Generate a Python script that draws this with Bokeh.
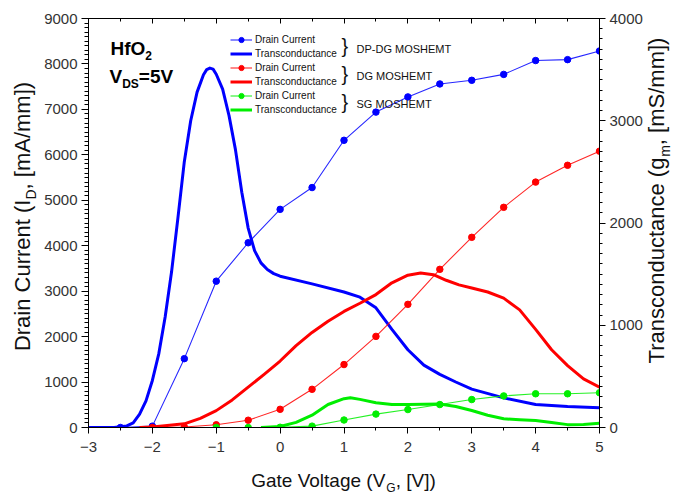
import math
from bokeh.plotting import figure
from bokeh.layouts import row, column
from bokeh.models import (Range1d, LinearAxis, SingleIntervalTicker, Legend,
                          LegendItem, Label)
from bokeh.embed import file_html
from bokeh.resources import INLINE

# ---------------- data ----------------
# Drain current (left axis, mA/mm), markers every 0.5 V
vg_dpdg = [-2.5, -2.0, -1.5, -1.0, -0.5, 0.0, 0.5, 1.0, 1.5, 2.0, 2.5, 3.0, 3.5, 4.0, 4.5, 5.0]
id_dpdg = [0, 30, 1515, 3220, 4065, 4800, 5280, 6320, 6940, 7275, 7560, 7640, 7770, 8075, 8095, 8285]

vg_dg = [-2.0, -1.5, -1.0, -0.5, 0.0, 0.5, 1.0, 1.5, 2.0, 2.5, 3.0, 3.5, 4.0, 4.5, 5.0]
id_dg = [0, 10, 60, 160, 400, 840, 1385, 2005, 2710, 3480, 4185, 4845, 5400, 5770, 6080]

vg_sg = [-1.0, -0.5, 0.0, 0.5, 1.0, 1.5, 2.0, 2.5, 3.0, 3.5, 4.0, 4.5, 5.0]
id_sg = [0, 0, 5, 30, 165, 295, 395, 505, 615, 695, 742, 742, 765]

# Transconductance (right axis, mS/mm)
vg_gm_dpdg = [-3.0, -2.6, -2.4, -2.3, -2.2, -2.1, -2.0, -1.9, -1.8, -1.7, -1.6, -1.5, -1.4,
              -1.3, -1.2, -1.15, -1.1, -1.05, -1.0, -0.9, -0.8, -0.7, -0.6, -0.5, -0.4, -0.3,
              -0.2, -0.1, 0.0, 0.5, 1.0, 1.25, 1.5, 1.75, 2.0, 2.25, 2.5, 2.75, 3.0, 3.5, 4.0,
              4.5, 5.0]
gm_dpdg = [0, 0, 15, 45, 130, 260, 460, 720, 1080, 1520, 2050, 2600, 3000,
           3280, 3450, 3500, 3515, 3505, 3455, 3310, 3050, 2720, 2300, 1950, 1730, 1610,
           1545, 1505, 1480, 1405, 1325, 1275, 1170, 960, 760, 610, 520, 445, 375, 290, 225,
           205, 193]

vg_gm_dg = [-2.2, -2.0, -1.5, -1.25, -1.0, -0.75, -0.5, -0.25, 0.0, 0.25, 0.5, 0.75, 1.0,
            1.25, 1.5, 1.75, 2.0, 2.2, 2.4, 2.6, 2.8, 3.0, 3.25, 3.5, 3.75, 4.0, 4.25,
            4.5, 4.75, 5.0]
gm_dg = [0, 5, 36, 90, 165, 270, 395, 520, 650, 800, 930, 1040, 1135,
         1215, 1300, 1415, 1490, 1510, 1495, 1440, 1395, 1365, 1325, 1265, 1150, 960, 760,
         605, 475, 395]

vg_gm_sg = [-0.3, 0.0, 0.25, 0.5, 0.75, 1.0, 1.1, 1.25, 1.5, 1.75, 2.0, 2.25, 2.5, 2.75,
            3.0, 3.25, 3.5, 3.75, 4.0, 4.25, 4.5, 4.75, 5.0]
gm_sg = [0, 10, 50, 120, 225, 282, 290, 275, 242, 225, 225, 228, 230, 205,
         166, 120, 85, 76, 68, 48, 28, 30, 42]

series_names = ["DP-DG MOSHEMT", "DG MOSHEMT", "SG MOSHEMT"]
series_colors = ["#0000FF", "#FF0000", "#00EE00"]

x_limits = (-3, 5)
id_limits = (0, 9000)
gm_limits = (0, 4000)

FONT = "Liberation Sans"

# ---------------- text helpers ----------------
W = {' ': .278, '(': .333, ')': .333, '[': .278, ']': .278, ',': .278, '/': .278,
     '=': .584, '-': .333, 'A': .667, 'C': .722, 'D': .722, 'E': .667, 'G': .778,
     'H': .722, 'I': .278, 'M': .833, 'O': .778, 'P': .667, 'S': .667, 'T': .611,
     'V': .667, 'a': .556, 'c': .5, 'd': .556, 'e': .556, 'f': .278, 'g': .556,
     'i': .222, 'l': .222, 'm': .833, 'n': .556, 'o': .556, 'r': .333, 's': .5,
     't': .278, 'u': .556}
WB = {'H': .722, 'f': .333, 'O': .778, 'V': .667, 'D': .722, 'S': .667, '=': .584}
BASE_FIX = 0.35   # observed offset of the rendered baseline, in em, toward the text's bottom


def tw(s, size, bold=False):
    tab = WB if bold else W
    return sum(tab.get(ch, W.get(ch, .556)) for ch in s) * size


def compose(fig, pieces, x0, y0, size, angle=0.0, bold=False, center=False, color="#111111"):
    sub = round(size * 0.65)
    total = sum(tw(t, sub if s else size, bold) for t, s in pieces)
    pos = -total / 2 if center else 0.0
    for t, s in pieces:
        fs = sub if s else size
        down = (size * 0.24 if s else 0.0) - BASE_FIX * fs
        if angle == 0:
            x, y = x0 + pos, y0 - down
        else:
            x, y = x0 + down, y0 + pos
        fig.add_layout(Label(x=x, y=y, x_units="screen", y_units="screen", text=t,
                             angle=angle, text_font=FONT, text_font_size=f"{fs}px",
                             text_font_style="bold" if bold else "normal",
                             text_baseline="alphabetic", text_align="left",
                             text_color=color))
        pos += tw(t, fs, bold)


def blank_fig(w, h, left=0, right=0, top=0, bottom=0):
    f = figure(width=w, height=h, x_range=Range1d(0, 1), y_range=Range1d(0, 1),
               output_backend="svg", toolbar_location=None,
               x_axis_location=None, y_axis_location=None,
               min_border_left=left, min_border_right=right,
               min_border_top=top, min_border_bottom=bottom)
    f.xgrid.visible = False
    f.ygrid.visible = False
    f.outline_line_color = None
    f.background_fill_color = "white"
    f.border_fill_color = "white"
    return f


# ---------------- main figure ----------------
p = figure(width=605, height=460, x_range=Range1d(*x_limits), y_range=Range1d(*id_limits),
           output_backend="svg", toolbar_location=None,
           min_border_left=48, min_border_right=45, min_border_top=18, min_border_bottom=33)
p.extra_y_ranges = {"gm": Range1d(*gm_limits)}
p.xgrid.visible = False
p.ygrid.visible = False
p.outline_line_color = "black"
p.outline_line_width = 1
p.background_fill_color = "white"
p.border_fill_color = "white"


def style_axis(ax, maj_out=6, min_out=3, maj_in=0, min_in=0, standoff=4, size="15px"):
    ax.axis_line_color = "black"
    ax.major_tick_line_color = "black"
    ax.minor_tick_line_color = "black"
    ax.major_tick_out = maj_out
    ax.minor_tick_out = min_out
    ax.major_tick_in = maj_in
    ax.minor_tick_in = min_in
    ax.major_label_standoff = standoff
    ax.major_label_text_font = FONT
    ax.major_label_text_font_size = size
    ax.major_label_text_color = "#333333"


p.xaxis.ticker = SingleIntervalTicker(interval=1, num_minor_ticks=2)
style_axis(p.xaxis[0], maj_out=6, min_out=3, standoff=8)
p.yaxis.ticker = SingleIntervalTicker(interval=1000, num_minor_ticks=10)
style_axis(p.yaxis[0], maj_out=7, min_out=4, standoff=4)

right = LinearAxis(y_range_name="gm", ticker=SingleIntervalTicker(interval=1000, num_minor_ticks=10))
style_axis(right, maj_out=6, min_out=3, standoff=4)
p.add_layout(right, "right")

top = LinearAxis(ticker=SingleIntervalTicker(interval=1, num_minor_ticks=2))
style_axis(top, maj_out=0, min_out=0, maj_in=5, min_in=3, standoff=0, size="0px")
top.major_label_overrides = {i: "" for i in range(-3, 6)}
p.add_layout(top, "above")

# ---------------- data renderers ----------------
id_x = [vg_dpdg, vg_dg, vg_sg]
id_y = [id_dpdg, id_dg, id_sg]
gm_x = [vg_gm_dpdg, vg_gm_dg, vg_gm_sg]
gm_y = [gm_dpdg, gm_dg, gm_sg]

items = []
for k in range(3):
    c = series_colors[k]
    gl = p.line(gm_x[k], gm_y[k], y_range_name="gm", line_color=c, line_width=3,
                line_join="round")
    il = p.line(id_x[k], id_y[k], line_color=c, line_width=1.1, line_alpha=0.85)
    isc = p.scatter(id_x[k], id_y[k], marker="circle", size=6.5, fill_color=c, line_color=c)
    items.append(LegendItem(label="Drain Current", renderers=[il, isc]))
    items.append(LegendItem(label="Transconductance", renderers=[gl]))

legend = Legend(items=items, location=(142, 311), border_line_color=None,
                background_fill_alpha=0, padding=0, margin=0, spacing=1,
                glyph_width=22, glyph_height=13, label_height=13, label_standoff=3,
                label_text_font=FONT, label_text_font_size="10px", label_text_color="#111111")
p.add_layout(legend)

# in-frame texts: frame coords x = X - 88, y = 427 - Y (reference pixels)
compose(p, [("HfO", False), ("2", True)], 22, 372, 19, bold=True, color="#000000")
compose(p, [("V", False), ("DS", True), ("=5V", False)], 21, 344, 19, bold=True, color="#000000")

pair_centers = [45.5, 73.3, 101.3]
for name, yc in zip(series_names, pair_centers):
    p.add_layout(Label(x=253, y=427 - yc, x_units="screen", y_units="screen", text="}",
                       text_font=FONT, text_font_size="20px", text_baseline="middle",
                       text_align="left", text_color="#111111"))
    p.add_layout(Label(x=268, y=427 - yc - 2.5, x_units="screen", y_units="screen", text=name,
                       text_font=FONT, text_font_size="11px", text_baseline="middle",
                       text_align="left", text_color="#111111"))

# ---------------- axis titles in side strips (frames aligned with the main frame) ----------------
left_fig = blank_fig(40, 494, top=18, bottom=67)      # frame: page x 0..40, y 18..427
compose(left_fig, [("Drain Current (I", False), ("D", True), (", [mA/mm])", False)],
        30, 211, 22, angle=math.pi / 2, center=True)

right_fig = blank_fig(36, 494, top=18, bottom=67)     # frame: page x 645..681, y 18..427
compose(right_fig, [("Transconductance (g", False), ("m", True), (", [mS/mm])", False)],
        19, 227, 22, angle=math.pi / 2, center=True)

bottom_fig = blank_fig(605, 34, left=48, right=45)    # frame: page x 88..600, y 460..494
compose(bottom_fig, [("Gate Voltage (V", False), ("G", True), (", [V])", False)],
        255, 7, 19, center=True)

layout = row(left_fig, column(p, bottom_fig, spacing=0), right_fig, spacing=0)

open("out.html", "w").write(file_html(layout, INLINE))
